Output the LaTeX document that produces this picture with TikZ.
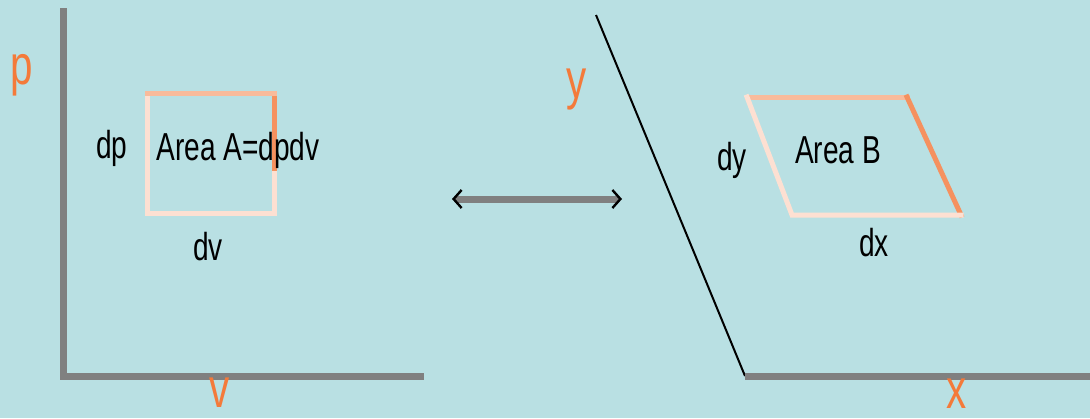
\documentclass[tikz,border=0pt]{standalone}
\usepackage{fontspec}
\setmainfont[FakeStretch=0.72]{Liberation Sans}
\usetikzlibrary{arrows.meta, positioning, calc}
\definecolor{bgblue}{RGB}{185,224,227}
\definecolor{axisgrey}{RGB}{128,128,128}
\definecolor{lblorange}{RGB}{244,122,58}
\definecolor{edgesalmon}{RGB}{249,187,155}
\definecolor{edgepale}{RGB}{253,224,210}
\definecolor{edgeorange}{RGB}{245,145,95}

\begin{document}
\begin{tikzpicture}[x=0.5pt, y=-0.5pt,
    axis/.style={draw=axisgrey, line width=3.5pt},
    edge/.style={line width=2.5pt, line cap=rect},
    varlbl/.style={text=lblorange, font=\fontsize{28}{30}\selectfont, inner sep=0pt},
    difflbl/.style={text=black, font=\fontsize{19.5}{21}\selectfont, inner sep=0pt}]
    % background and fixed size
    \fill[bgblue] (0,0) rectangle (1090,418);
    \useasboundingbox (0,0) rectangle (1090,418);

    % p-v diagram
    \coordinate (pTop) at (63,8);
    \coordinate (pOrig) at (63,376);
    \coordinate (vEnd) at (424,376);
    \draw[axis] (pTop) -- (pOrig) -- (vEnd);
    \node[varlbl] (pLbl) at (22,75) {p};
    \node[varlbl] (vLbl) at (220,393) {v};

    \coordinate (sqTL) at (147,93);
    \coordinate (sqTR) at (274,93);
    \coordinate (sqBR) at (274,213);
    \coordinate (sqBL) at (147,213);
    \coordinate (sqMR) at (274,168);
    \draw[edge, edgepale] (sqTL) -- (sqBL) -- (sqBR) -- (sqMR);
    \draw[edge, edgeorange] (sqMR) -- (sqTR);
    \draw[edge, edgesalmon] (sqTR) -- (sqTL);
    \node[difflbl] (areaA) at (238,150) {Area A=dpdv};
    \node[difflbl] (dpLbl) at (112,148) {dp};
    \node[difflbl] (dvLbl) at (208,247) {dv};

    % mapping arrow
    \coordinate (mapL) at (452,199);
    \coordinate (mapR) at (622,199);
    \draw[draw=axisgrey, line width=3.5pt,
        {Straight Barb[color=black, length=4pt, width=9pt, line width=1.2pt]}-{Straight Barb[color=black, length=4pt, width=9pt, line width=1.2pt]}]
        (mapL) -- (mapR);

    % x-y diagram
    \coordinate (yTop) at (596,15);
    \coordinate (xOrig) at (745,376);
    \coordinate (xEnd) at (1090,376);
    \draw[black, line width=1pt] (yTop) -- (xOrig);
    \draw[axis] (xOrig) -- (xEnd);
    \node[varlbl] (yLbl) at (577,90) {y};
    \node[varlbl] (xLbl) at (957,394) {x};

    \coordinate (pgTL) at (747,97);
    \coordinate (pgTR) at (907,97);
    \coordinate (pgBR) at (961,215);
    \coordinate (pgBL) at (792,215);
    \draw[edge, edgesalmon] (pgTL) -- (pgTR);
    \draw[edge, edgeorange] (pgTR) -- (pgBR);
    \draw[edge, edgepale] (pgBR) -- (pgBL) -- (pgTL);
    \node[difflbl] (areaB) at (838,150) {Area B};
    \node[difflbl] (dyLbl) at (732,160) {dy};
    \node[difflbl] (dxLbl) at (874,243) {dx};
\end{tikzpicture}
\end{document}
